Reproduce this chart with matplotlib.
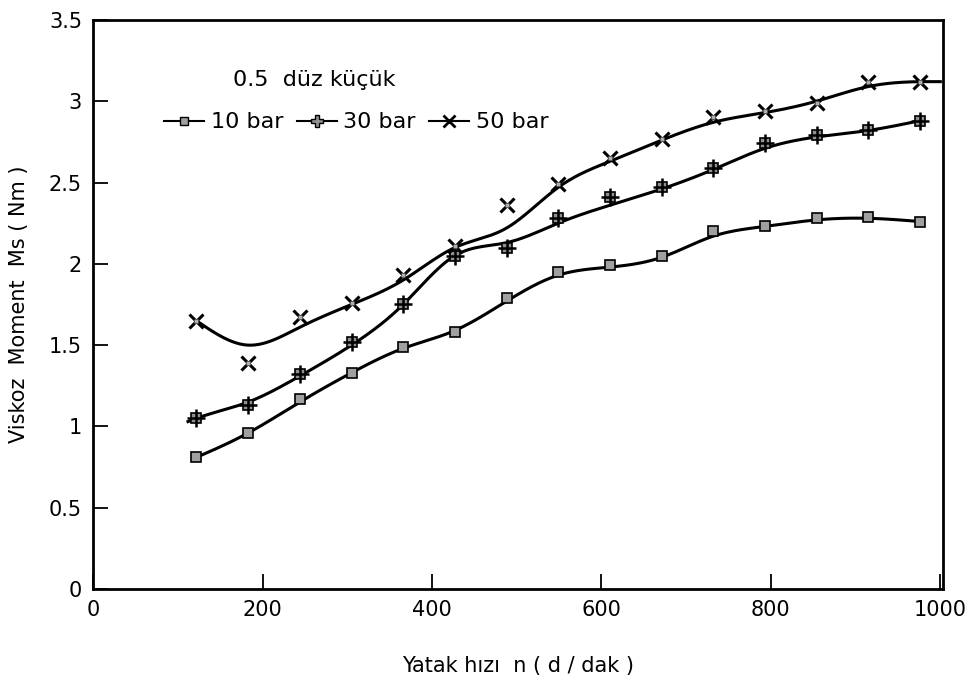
import numpy as np
import matplotlib
matplotlib.use("Agg")
import matplotlib.pyplot as plt
from matplotlib.lines import Line2D

# okunan ölçüm noktaları (yatak hızı, d/dak)
devir = [122, 183, 244, 305, 366, 427, 488, 549, 610, 671, 732, 793, 854, 915, 976]

# işaretçi değerleri (Nm)
m10 = [0.81, 0.96, 1.17, 1.33, 1.49, 1.58, 1.79, 1.95, 1.99, 2.05, 2.20, 2.23, 2.28, 2.29, 2.26]
m30 = [1.05, 1.13, 1.32, 1.52, 1.75, 2.05, 2.10, 2.28, 2.41, 2.47, 2.59, 2.74, 2.79, 2.82, 2.88]
m50 = [1.65, 1.39, 1.67, 1.76, 1.93, 2.11, 2.36, 2.49, 2.65, 2.77, 2.90, 2.94, 2.99, 3.12, 3.12]

# elle çizilmiş eğrilerin geçtiği noktalar
e10_x = devir
e10_y = [0.81, 0.96, 1.15, 1.33, 1.48, 1.59, 1.77, 1.93, 1.98, 2.04, 2.17, 2.23, 2.27, 2.28, 2.26]
e30_x = [112] + devir
e30_y = [1.03, 1.05, 1.15, 1.31, 1.50, 1.75, 2.05, 2.13, 2.25, 2.36, 2.46, 2.58, 2.71, 2.78, 2.82, 2.88]
e50_x = devir + [1000]
e50_y = [1.65, 1.50, 1.61, 1.75, 1.90, 2.10, 2.22, 2.47, 2.63, 2.76, 2.87, 2.93, 3.00, 3.09, 3.12, 3.12]


def spline(x, y, n=400):
    # doğal kübik spline, sadece çizgiyi yumuşatmak için
    x = np.asarray(x, float)
    y = np.asarray(y, float)
    h = np.diff(x)
    k = len(x)
    A = np.zeros((k, k))
    b = np.zeros(k)
    A[0, 0] = A[-1, -1] = 1
    for i in range(1, k - 1):
        A[i, i - 1] = h[i - 1]
        A[i, i] = 2 * (h[i - 1] + h[i])
        A[i, i + 1] = h[i]
        b[i] = 3 * ((y[i + 1] - y[i]) / h[i] - (y[i] - y[i - 1]) / h[i - 1])
    c = np.linalg.solve(A, b)
    xs = np.linspace(x[0], x[-1], n)
    j = np.clip(np.searchsorted(x, xs) - 1, 0, k - 2)
    d = xs - x[j]
    bb = (y[j + 1] - y[j]) / h[j] - h[j] * (2 * c[j] + c[j + 1]) / 3
    dd = (c[j + 1] - c[j]) / (3 * h[j])
    return xs, y[j] + bb * d + c[j] * d ** 2 + dd * d ** 3


plt.rcParams['font.family'] = ['DejaVu Sans']
fig = plt.figure(figsize=(9.7, 6.85), dpi=100)
ax = fig.add_axes([0.096, 0.140, 0.876, 0.831])

lw = 2.2
for ex, ey in [(e10_x, e10_y), (e30_x, e30_y), (e50_x, e50_y)]:
    xs, ys = spline(ex, ey)
    ax.plot(xs, ys, color='black', lw=lw, zorder=2)

ax.plot(devir, m10, ls='none', marker='s', ms=7, mfc='#a0a0a0', mec='black', mew=1.2, zorder=3)
ax.plot(devir, m30, ls='none', marker='s', ms=7, mfc='#909090', mec='black', mew=1.2, zorder=3)
ax.plot(devir, m30, ls='none', marker='+', ms=13, mec='black', mew=1.8, zorder=4)
ax.plot(devir, m50, ls='none', marker='x', ms=10, mec='black', mew=2.2, zorder=3)
ax.plot(devir, m50, ls='none', marker='s', ms=3.5, mfc='#b0b0b0', mec='none', zorder=4)

ax.set_xlim(0, 1003)
ax.set_ylim(0, 3.5)
ax.set_xticks([0, 200, 400, 600, 800, 1000])
ax.set_xticklabels(['0', '200', '400', '600', '800', '1000'])
ax.set_yticks([0, 0.5, 1, 1.5, 2, 2.5, 3, 3.5])
ax.set_yticklabels(['0', '0.5', '1', '1.5', '2', '2.5', '3', '3.5'])
ax.tick_params(direction='in', length=11, width=1.3, labelsize=15, pad=8)
for s in ax.spines.values():
    s.set_linewidth(2)

ax.set_xlabel('Yatak hızı  n ( d / dak )', fontsize=15, labelpad=26)
ax.set_ylabel('Viskoz  Moment  Ms ( Nm )', fontsize=15, labelpad=14)

ax.text(0.165, 0.895, '0.5  düz küçük', transform=ax.transAxes, fontsize=16,
        va='center', ha='left')

h10 = Line2D([], [], color='black', lw=1.5, marker='s', ms=6, mfc='#a0a0a0', mec='black')
h30 = Line2D([], [], color='black', lw=1.5, marker='P', ms=8, mfc='#909090', mec='black')
h50 = Line2D([], [], color='black', lw=1.5, marker='x', ms=8, mec='black', mew=2)
ax.legend([h10, h30, h50], ['10 bar', '30 bar', '50 bar'], ncol=3, frameon=False,
          loc='center left', bbox_to_anchor=(0.06, 0.82), fontsize=16,
          handlelength=1.8, handletextpad=0.3, columnspacing=0.6)

fig.savefig('out.png', dpi=100)
